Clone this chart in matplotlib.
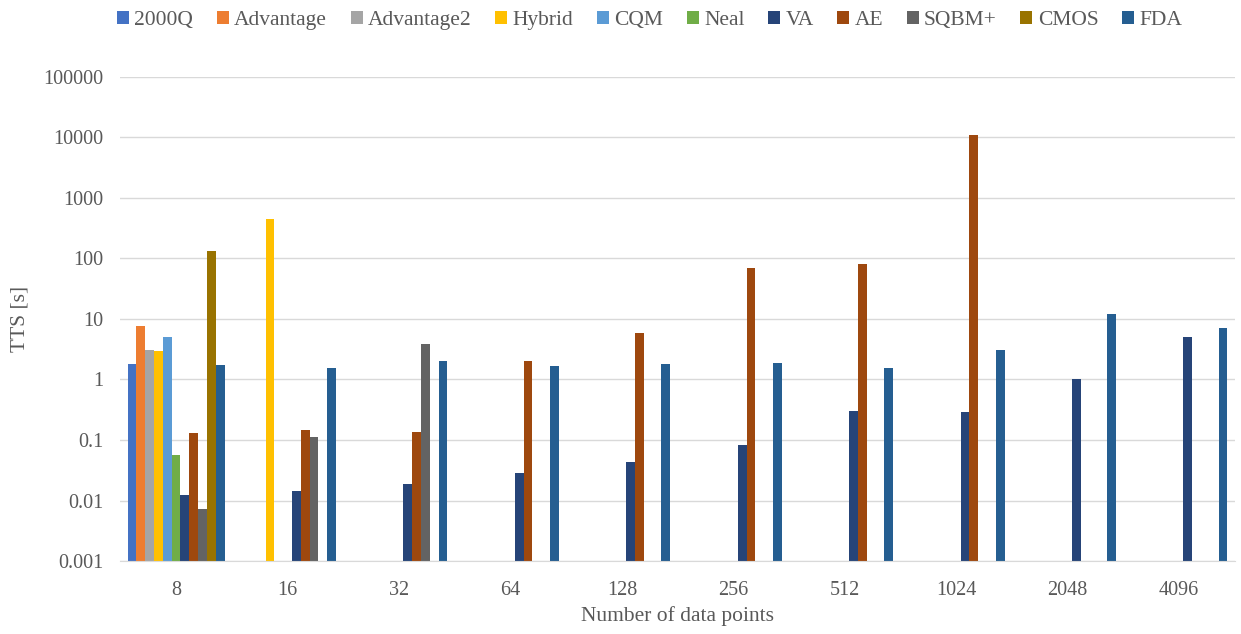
import numpy as np
import matplotlib
matplotlib.use("Agg")
import matplotlib.pyplot as plt

plt.rcParams['font.family'] = ['Liberation Serif', 'DejaVu Serif']

categories = ['8', '16', '32', '64', '128', '256', '512', '1024', '2048', '4096']
series_names = ['2000Q', 'Advantage', 'Advantage2', 'Hybrid', 'CQM', 'Neal',
                'VA', 'AE', 'SQBM+', 'CMOS', 'FDA']
nan = np.nan

# TTS values per series, one per category (nan = no bar)
q2000 = [1.77, nan, nan, nan, nan, nan, nan, nan, nan, nan]
advantage = [7.6, nan, nan, nan, nan, nan, nan, nan, nan, nan]
advantage2 = [3.1, nan, nan, nan, nan, nan, nan, nan, nan, nan]
hybrid = [2.98, 455, nan, nan, nan, nan, nan, nan, nan, nan]
cqm = [5.1, nan, nan, nan, nan, nan, nan, nan, nan, nan]
neal = [0.056, nan, nan, nan, nan, nan, nan, nan, nan, nan]
va = [0.0124, 0.0145, 0.0187, 0.028, 0.043, 0.084, 0.30, 0.29, 1.01, 5.04]
ae = [0.13, 0.147, 0.133, 2.0, 5.9, 70, 82, 10700, nan, nan]
sqbm = [0.0072, 0.112, 3.86, nan, nan, nan, nan, nan, nan, nan]
cmos = [132, nan, nan, nan, nan, nan, nan, nan, nan, nan]
fda = [1.7, 1.54, 2.02, 1.69, 1.78, 1.84, 1.53, 3.06, 12.2, 7.2]

all_series = [q2000, advantage, advantage2, hybrid, cqm, neal, va, ae, sqbm, cmos, fda]
colors = ['#4472C4', '#ED7D31', '#A5A5A5', '#FFC000', '#5B9BD5', '#70AD47',
          '#264478', '#9E480E', '#636363', '#997300', '#255E91']

text_color = '#595959'
grid_color = '#D9D9D9'

fig = plt.figure(figsize=(12.41, 6.34), dpi=100)
ax = fig.add_axes([0.097, 0.115, 0.898, 0.764])
ax.set_yscale('log')

x = np.arange(len(categories))
w = 0.079
n = len(all_series)
for i, (name, vals, c) in enumerate(zip(series_names, all_series, colors)):
    vals = np.array(vals, dtype=float)
    ok = ~np.isnan(vals)
    ax.bar(x[ok] + (i - (n - 1) / 2) * w, vals[ok], width=w, color=c, label=name,
           bottom=0.0001, zorder=3)

ax.set_ylim(0.001, 100000)
ax.set_xlim(-0.5, len(categories) - 0.5)
ax.set_yticks([10.0 ** k for k in range(-3, 6)])
ax.set_yticklabels(['0.001', '0.01', '0.1', '1', '10', '100', '1000', '10000', '100000'])
ax.minorticks_off()
ax.set_xticks(x)
ax.set_xticklabels(categories)

ax.grid(axis='y', color=grid_color, linewidth=1, zorder=0)
for s in ['top', 'right', 'left']:
    ax.spines[s].set_visible(False)
ax.spines['bottom'].set_color(grid_color)
ax.spines['bottom'].set_zorder(4)
ax.tick_params(axis='both', length=0, labelsize=14.5, colors=text_color)
ax.tick_params(axis='x', pad=14)
ax.tick_params(axis='y', pad=12)

ax.set_xlabel('Number of data points', fontsize=15.5, color=text_color, labelpad=5)
ax.set_ylabel('TTS [s]', fontsize=15.5, color=text_color, labelpad=10)

ax.legend(loc='upper center', bbox_to_anchor=(0.475, 1.175), ncol=11, frameon=False,
          fontsize=15.5, handlelength=0.55, handleheight=0.55, handletextpad=0.25,
          columnspacing=1.1, labelcolor=text_color)

fig.savefig('out.png', dpi=100)
